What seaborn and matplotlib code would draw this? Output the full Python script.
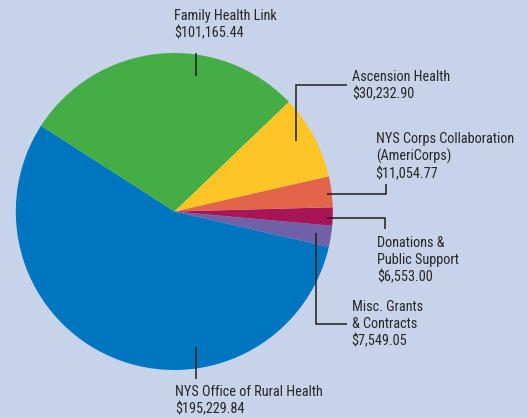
import matplotlib
matplotlib.use("Agg")
import matplotlib.pyplot as plt
import seaborn as sns

# ---- data (pie order, counter-clockwise from the lower right) ----
categories = ["Misc. Grants\n& Contracts", "Donations &\nPublic Support",
              "NYS Corps Collaboration\n(AmeriCorps)", "Ascension Health",
              "Family Health Link", "NYS Office of Rural Health"]
values = [7549.05, 6553.00, 11054.77, 30232.90, 101165.44, 195229.84]
colors = ["#7060a8", "#a61656", "#e2644b", "#ffc425", "#45ad45", "#0076c0"]

bg = "#c7d3e9"
sns.set_theme(style="white")
plt.rcParams['font.family'] = ['Roboto Condensed', 'DejaVu Sans']

W, H = 528, 417
fig = plt.figure(figsize=(W / 100, H / 100), dpi=100)
fig.patch.set_facecolor(bg)
ax = fig.add_axes([0, 0, 1, 1])
ax.set_facecolor(bg)

cx, cy, r = 174.3, 211.5, 158.5
ax.pie(values, colors=colors, startangle=-12.9, counterclock=True,
       center=(cx, H - cy), radius=r, wedgeprops=dict(linewidth=0))
ax.set_xlim(0, W)
ax.set_ylim(0, H)
ax.set_aspect('equal')
ax.axis('off')

# leader lines and label anchors (pixel layout, y measured from top)
leader_map = {
    "Family Health Link": [(195.7, 53), (195.7, 76)],
    "Ascension Health": [(347, 85), (296, 85), (296, 141)],
    "NYS Corps Collaboration\n(AmeriCorps)": [(326.7, 194.3), (385.7, 194.3), (385.7, 184)],
    "Donations &\nPublic Support": [(326.7, 217.7), (385, 217.7), (385, 229)],
    "Misc. Grants\n& Contracts": [(316, 233), (316, 324), (346.7, 324)],
    "NYS Office of Rural Health": [(195.7, 346.7), (195.7, 379)],
}
text_pos = {
    "Family Health Link": (174, 37.3),
    "Ascension Health": (352, 98),
    "NYS Corps Collaboration\n(AmeriCorps)": (375.7, 178),
    "Donations &\nPublic Support": (377.3, 281),
    "Misc. Grants\n& Contracts": (351.7, 345),
    "NYS Office of Rural Health": (175, 413),
}

for cat, val in zip(categories, values):
    pts = leader_map[cat]
    ax.plot([p[0] for p in pts], [H - p[1] for p in pts], color="#1e1e1e",
            lw=1.1, solid_capstyle='butt', solid_joinstyle='miter')
    tx, ty = text_pos[cat]
    ax.text(tx, H - ty, f"{cat}\n${val:,.2f}", ha='left', va='baseline',
            fontsize=10.3, color="#262626", linespacing=1.25)

fig.savefig("out.png", dpi=100, facecolor=bg)
